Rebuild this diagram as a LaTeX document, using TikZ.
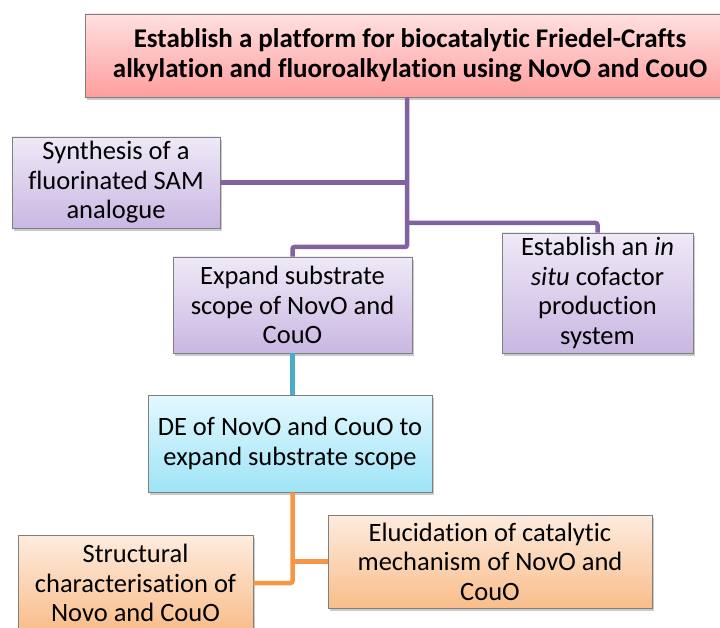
\documentclass[tikz,border=0pt]{standalone}
\usepackage{fontspec}
\setmainfont{Carlito}[Ligatures=NoCommon]
\usetikzlibrary{shadows}
\definecolor{purpline}{HTML}{8064A2}
\definecolor{tealline}{HTML}{4BACC6}
\definecolor{orgline}{HTML}{F79646}
\definecolor{boxedge}{HTML}{7F7F7F}
\definecolor{redtop}{HTML}{FFE0E0}
\definecolor{redbot}{HTML}{FF9E9E}
\definecolor{purtop}{HTML}{EFE9F7}
\definecolor{purbot}{HTML}{C9B7E2}
\definecolor{cyatop}{HTML}{E3F8FE}
\definecolor{cyabot}{HTML}{9FE4F8}
\definecolor{orgtop}{HTML}{FDECDF}
\definecolor{orgbot}{HTML}{F9BD8A}
\tikzset{
  box/.style={draw=boxedge, line width=0.8pt, align=center, inner sep=0pt,
    drop shadow={shadow xshift=2pt, shadow yshift=-3pt, opacity=0.35, fill=black!60},
    font=\fontsize{26.5}{29.5}\selectfont},
  redbox/.style={box, top color=redtop, bottom color=redbot, font=\fontsize{27}{30}\selectfont\bfseries},
  purpbox/.style={box, top color=purtop, bottom color=purbot},
  cyanbox/.style={box, top color=cyatop, bottom color=cyabot},
  orgbox/.style={box, top color=orgtop, bottom color=orgbot},
  link/.style={line width=4.5pt, rounded corners=2pt},
}
\begin{document}
\begin{tikzpicture}[x=1pt, y=-1pt]
\useasboundingbox (0,0) rectangle (720,628);
% goal
\node[redbox, minimum width=650pt, minimum height=83pt] (top) at (410,55.5)
  {Establish a platform for biocatalytic Friedel-Crafts\\alkylation and fluoroalkylation using NovO and CouO};
% first level
\node[purpbox, minimum width=208pt, minimum height=91pt] (sam) at (116,182.5)
  {Synthesis of a\\fluorinated SAM\\analogue};
\node[purpbox, minimum width=239pt, minimum height=96pt] (ex) at (292.5,305)
  {Expand substrate\\scope of NovO and\\CouO};
\node[purpbox, minimum width=191pt, minimum height=120pt] (situ) at (597.5,293)
  {Establish an \emph{in}\\\emph{situ} cofactor\\production\\system};
% second level
\node[cyanbox, minimum width=284pt, minimum height=97pt] (de) at (290,443.5)
  {DE of NovO and CouO to\\expand substrate scope};
% third level
\node[orgbox, minimum width=324pt, minimum height=93pt] (el) at (490,561.5)
  {Elucidation of catalytic\\mechanism of NovO and\\CouO};
\node[orgbox, minimum width=235pt, minimum height=96pt] (st) at (135.5,583)
  {Structural\\characterisation of\\Novo and CouO};
% junction points on the trunk
\coordinate (trunk) at (407,247);
\coordinate (fork) at (407,223);
% connectors
\draw[link, purpline] (top.south -| trunk) -- (trunk) -| (ex.north);
\draw[link, purpline] (sam.east) -- (sam.east -| trunk);
\draw[link, purpline] (fork) -| (situ.north);
\draw[link, tealline] (ex.south) -- (ex.south |- de.north);
\draw[link, orgline] (de.south -| ex.south) |- (st.east);
\draw[link, orgline] (el.west -| ex.south) -- (el.west);
\end{tikzpicture}
\end{document}
